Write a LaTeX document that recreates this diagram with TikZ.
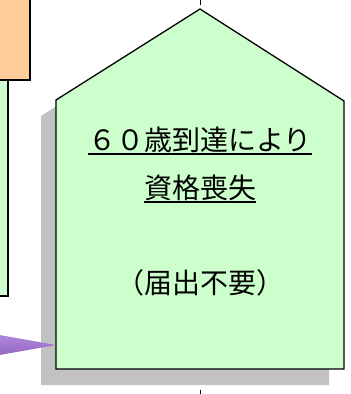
\documentclass[tikz,border=0pt]{standalone}
\usepackage{fontspec}
\setmainfont{Noto Sans CJK JP}
\usetikzlibrary{calc, positioning}

\definecolor{mintgreen}{HTML}{CCFFCC}
\definecolor{peach}{HTML}{FFCC99}
\definecolor{shadowgray}{HTML}{C2C2C2}
\definecolor{arrowlight}{HTML}{B992E6}
\definecolor{arrowdark}{HTML}{8A5CB8}

\tikzset{
    panel/.style={draw, line width=1.3pt, line join=miter},
    guide/.style={draw, line width=1pt, dash pattern=on 6pt off 7pt},
    uline/.style={draw, line width=1.3pt},
    label/.style={inner sep=0pt, anchor=base}
}

\begin{document}
\begin{tikzpicture}[x=1pt, y=-1pt, font=\fontsize{28}{32}\selectfont]
    \useasboundingbox (0,0) rectangle (351,394);

    % boxes cut off at the left
    \fill[panel, fill=mintgreen] (-20,70) rectangle (8,296);
    \fill[panel, fill=peach] (-20,-10) rectangle (30,80);

    % house shape with shadow
    \coordinate (apex) at (200,9);
    \coordinate (roofL) at (56,100);
    \coordinate (roofR) at (344,101);
    \coordinate (footL) at (56,369);
    \coordinate (footR) at (344,369);
    \coordinate (base) at (200,369);
    \coordinate (tip) at (56,345);

    \draw[guide] ($(apex)+(0,-4)$) -- ++(0,-20);
    \draw[guide] ($(base)+(0,8)$) -- ++(0,30);

    \fill[shadowgray] ($(apex)+(-15,16)$) -- ($(roofR)+(-15,16)$) -- ($(footR)+(-15,16)$)
        -- ($(footL)+(-15,16)$) -- ($(roofL)+(-15,16)$) -- cycle;
    \fill[panel, fill=mintgreen] (apex) -- (roofR) -- (footR) -- (footL) -- (roofL) -- cycle;

    % incoming arrow
    \shade[top color=arrowlight, bottom color=arrowdark] (-40,328) -- (tip) -- (-40,362) -- cycle;

    \node[label] (line1) at (200,150) {６０歳到達により};
    \node[label] (line2) at (200,198) {資格喪失};
    \node[label] (line3) at (200,293) {（届出不要）};
    \draw[uline] ([yshift=-4pt]line1.base west) -- ([yshift=-4pt]line1.base east);
    \draw[uline] ([yshift=-4pt]line2.base west) -- ([yshift=-4pt]line2.base east);
\end{tikzpicture}
\end{document}
